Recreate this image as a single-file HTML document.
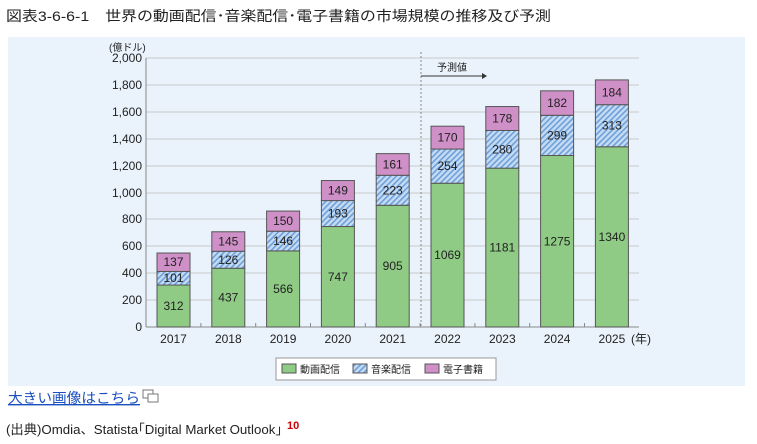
<!DOCTYPE html>
<html><head><meta charset="utf-8"><style>
body{margin:0;width:757px;height:444px;background:#fff;overflow:hidden;font-family:"Liberation Sans","Noto Sans CJK JP",sans-serif;}
</style></head><body>
<svg width="757" height="444" xmlns="http://www.w3.org/2000/svg" style="position:absolute;left:0;top:0" font-family="Liberation Sans, Noto Sans CJK JP, sans-serif">
<defs>
<pattern id="h" width="4" height="4" patternUnits="userSpaceOnUse" patternTransform="rotate(45)">
<rect width="4" height="4" fill="#c4dcf4"/><rect width="1.6" height="4" fill="#6f9fd8"/>
</pattern>
</defs>
<text x="6" y="21" font-size="14" fill="#222" textLength="545" lengthAdjust="spacingAndGlyphs">図表3-6-6-1　世界の動画配信･音楽配信･電子書籍の市場規模の推移及び予測</text>
<rect x="8" y="37" width="737" height="349" fill="#eaf3fb"/>
<g stroke="#c8c8c8" stroke-width="1">
<line x1="146" x2="639" y1="58" y2="58"/><line x1="146" x2="639" y1="85" y2="85"/><line x1="146" x2="639" y1="112" y2="112"/><line x1="146" x2="639" y1="139" y2="139"/><line x1="146" x2="639" y1="166" y2="166"/><line x1="146" x2="639" y1="193" y2="193"/><line x1="146" x2="639" y1="219" y2="219"/><line x1="146" x2="639" y1="246" y2="246"/><line x1="146" x2="639" y1="273" y2="273"/><line x1="146" x2="639" y1="300" y2="300"/>
</g>
<line x1="146" x2="146" y1="58" y2="327" stroke="#888"/>
<line x1="146" x2="639" y1="327" y2="327" stroke="#888"/>
<g font-size="12" fill="#222" text-anchor="end">
<text x="142" y="62">2,000</text><text x="142" y="89">1,800</text><text x="142" y="116">1,600</text><text x="142" y="143">1,400</text><text x="142" y="170">1,200</text><text x="142" y="197">1,000</text><text x="142" y="223">800</text><text x="142" y="250">600</text><text x="142" y="277">400</text><text x="142" y="304">200</text><text x="142" y="331">0</text>
</g>
<text x="109" y="51" font-size="10" fill="#222">(億ドル)</text>
<line x1="421" x2="421" y1="52" y2="327" stroke="#888" stroke-dasharray="2,2"/>
<line x1="421" x2="482" y1="76" y2="76" stroke="#333"/>
<polygon points="482,73 487,76 482,79" fill="#333"/>
<text x="437" y="71" font-size="10" fill="#222">予測値</text>
<g id="bars" stroke="#555" stroke-width="1" font-size="12" text-anchor="middle" fill="#222"></g>
<rect x="276" y="358" width="220" height="22" fill="#fff" stroke="#999"/>
<rect x="282" y="364" width="14" height="9" fill="#8fcb84" stroke="#555"/>
<text x="300" y="373" font-size="10" fill="#222">動画配信</text>
<rect x="353" y="364" width="14" height="9" fill="url(#h)" stroke="#555"/>
<text x="371" y="373" font-size="10" fill="#222">音楽配信</text>
<rect x="425" y="364" width="14" height="9" fill="#cf90c8" stroke="#555"/>
<text x="443" y="373" font-size="10" fill="#222">電子書籍</text>
<text x="8" y="403" font-size="14" fill="#1a4fbf" text-decoration="underline" textLength="132" lengthAdjust="spacingAndGlyphs">大きい画像はこちら</text>
<rect x="143" y="390" width="10" height="8" fill="#fff" stroke="#777"/><rect x="148" y="394" width="10" height="8" fill="#fff" stroke="#777"/>
<text x="6" y="434" font-size="13" fill="#222" textLength="276" lengthAdjust="spacingAndGlyphs">(出典)Omdia、Statista｢Digital Market Outlook｣</text>
<text x="287" y="429" font-size="11" font-weight="bold" fill="#c00">10</text>
</svg>
<script>
var d=[[2017,312,101,137],[2018,437,126,145],[2019,566,146,150],[2020,747,193,149],[2021,905,223,161],[2022,1069,254,170],[2023,1181,280,178],[2024,1275,299,182],[2025,1340,313,184]];
var g=document.getElementById('bars'),s='',k=0.1345,y0=327;
d.forEach(function(r,i){var cx=173.5+54.8*i,x=cx-16.5,w=33;
var h1=r[1]*k,h2=r[2]*k,h3=r[3]*k;
s+='<rect x="'+x+'" y="'+(y0-h1)+'" width="'+w+'" height="'+h1+'" fill="#8fcb84"/>';
s+='<rect x="'+x+'" y="'+(y0-h1-h2)+'" width="'+w+'" height="'+h2+'" fill="url(#h)"/>';
s+='<rect x="'+x+'" y="'+(y0-h1-h2-h3)+'" width="'+w+'" height="'+h3+'" fill="#cf90c8"/>';
s+='<text stroke="none" x="'+cx+'" y="'+(y0-h1/2+4)+'">'+r[1]+'</text>';
s+='<text stroke="none" x="'+cx+'" y="'+(y0-h1-h2/2+4)+'">'+r[2]+'</text>';
s+='<text stroke="none" x="'+cx+'" y="'+(y0-h1-h2-h3/2+4)+'">'+r[3]+'</text>';
s+='<text stroke="none" x="'+cx+'" y="343">'+r[0]+'</text>';
if(i>0)s+='<line x1="'+(cx-27.4)+'" x2="'+(cx-27.4)+'" y1="323" y2="327" stroke="#888"/>';
});
s+='<text stroke="none" x="641" y="343">(年)</text>';
g.innerHTML=s;
</script>
</body></html>
